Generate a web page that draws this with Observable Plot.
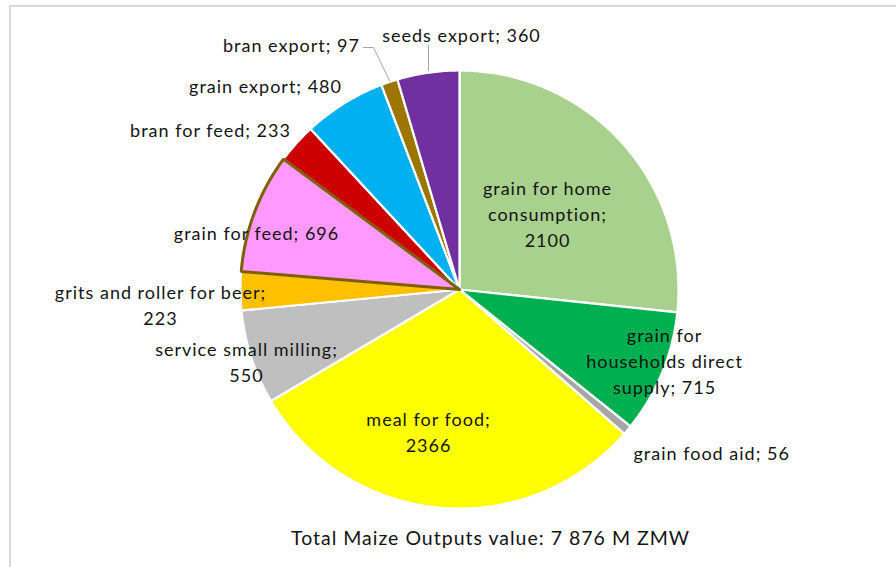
<!DOCTYPE html>
<html><head><meta charset="utf-8">
<script src="https://cdn.jsdelivr.net/npm/d3@7"></script>
<script src="https://cdn.jsdelivr.net/npm/@observablehq/plot@0.6"></script>
<style>
html,body{margin:0;padding:0;background:#fff;}
#wrap{position:relative;width:896px;height:567px;overflow:hidden;}
#frame{position:absolute;left:9px;top:5px;width:1000px;height:1000px;border:2px solid #d9d9d9;box-sizing:border-box;}
#chart{position:absolute;left:0;top:0;}
#chart svg text{letter-spacing:1px;}
</style></head>
<body><div id="wrap"><div id="frame"></div><div id="chart"></div></div>
<script>
const categories = ["grain for home consumption","grain for households direct supply","grain food aid","meal for food","service small milling","grits and roller for beer","grain for feed","bran for feed","grain export","bran export","seeds export"];
const values = [2100, 715, 56, 2366, 550, 223, 696, 233, 480, 97, 360];
const labelTexts = ["grain for home\nconsumption;\n2100","grain for\nhouseholds direct\nsupply; 715","grain food aid; 56","meal for food;\n2366","service small milling;\n550","grits and roller for beer;\n223","grain for feed; 696","bran for feed; 233","grain export; 480","bran export; 97","seeds export; 360"];
const caption = "Total Maize Outputs value: 7 876 M ZMW";

// styles / layout (kept apart from data)
const colors = ["#a9d18e","#00b050","#a6a6a6","#ffff00","#bfbfbf","#ffc000","#ff99ff","#cc0000","#00b0f0","#9c7600","#7030a0"];
const cx = 459, cy = 289, R = 219;
const labelPos = [[547,212,"middle"],[664,359,"middle"],[633,451,"start"],[428,430,"middle"],[246,360,"middle"],[160,303,"middle"],[256,231,"middle"],[210,128,"middle"],[265,84,"middle"],[291,43,"middle"],[461,33,"middle"]];
const leaders = [
  [[363,47],[373,47],[389,80]],
  [[428,45],[428,70]]
];

const arcs = d3.pie().sort(null).startAngle(0).endAngle(2*Math.PI)(values);
function slicePoints(a) {
  const pts = [{x: cx, y: cy}];
  const n = Math.max(2, Math.ceil((a.endAngle - a.startAngle) / 0.01));
  for (let i = 0; i <= n; i++) {
    const t = a.startAngle + (a.endAngle - a.startAngle) * i / n;
    pts.push({x: cx + R * Math.sin(t), y: cy - R * Math.cos(t)});
  }
  pts.push({x: cx, y: cy});
  return pts;
}
const marks = [];
arcs.forEach((a, i) => {
  if (i === 6) return;
  marks.push(Plot.line(slicePoints(a), {x: "x", y: "y", fill: colors[i], stroke: "#ffffff", strokeWidth: 2.2, strokeLinejoin: "miter", curve: "linear"}));
});
marks.push(Plot.line(slicePoints(arcs[6]), {x: "x", y: "y", fill: colors[6], stroke: "#7f6000", strokeWidth: 3, strokeLinejoin: "miter", curve: "linear"}));
leaders.forEach(l => marks.push(Plot.line(l.map(p => ({x: p[0], y: p[1]})), {x: "x", y: "y", stroke: "#a6a6a6", strokeWidth: 1})));
const labels = labelTexts.map((t, i) => ({text: t, x: labelPos[i][0], y: labelPos[i][1], anchor: labelPos[i][2], value: values[i], cat: categories[i]}));
["middle","start"].forEach(anc => {
  marks.push(Plot.text(labels.filter(d => d.anchor === anc), {x: "x", y: "y", text: "text", textAnchor: anc, lineAnchor: "middle", lineHeight: 1.47, fill: "#141414", fontSize: 18}));
});
marks.push(Plot.text([{t: caption}], {x: () => 490, y: () => 538, text: "t", fill: "#141414", fontSize: 19.5}));

const chart = Plot.plot({
  width: 896, height: 567,
  margin: 0,
  x: {domain: [0, 896], range: [0, 896], axis: null},
  y: {domain: [0, 567], range: [0, 567], axis: null},
  style: {fontFamily: "Lato, 'Open Sans', sans-serif", background: "transparent"},
  marks
});
document.getElementById("chart").appendChild(chart);
</script></body></html>
